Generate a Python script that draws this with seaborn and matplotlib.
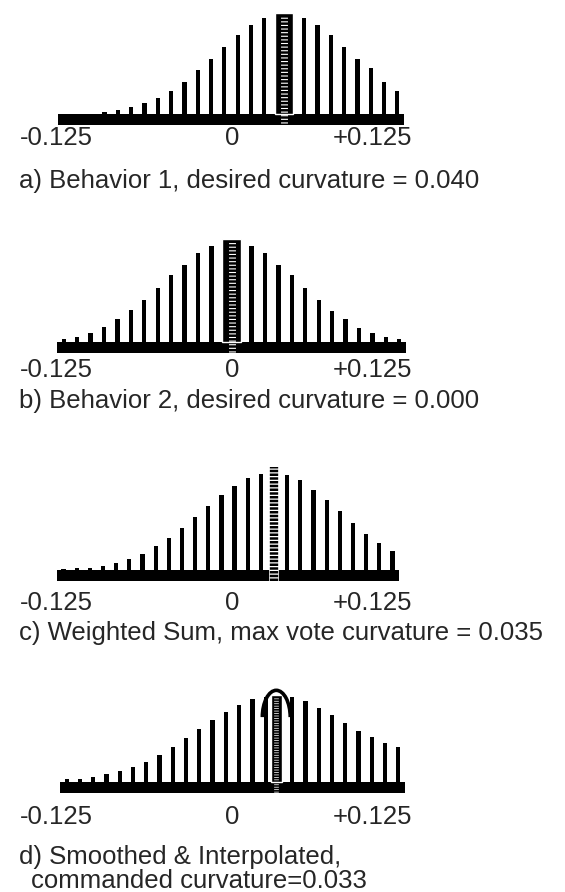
import matplotlib
matplotlib.use("Agg")
import matplotlib.pyplot as plt
from matplotlib.patches import Arc
import seaborn as sns

# curvature bins of the arc voting space
curv_bins = [-0.125, -0.115, -0.105, -0.095, -0.085, -0.075, -0.065, -0.055,
             -0.045, -0.035, -0.025, -0.015, -0.005, 0.005, 0.015, 0.025,
             0.035, 0.045, 0.055, 0.065, 0.075, 0.085, 0.095, 0.105, 0.115, 0.125]

# votes (1.0 = tallest mark)
votes_a = [0.00, 0.00, 0.00, 0.01, 0.03, 0.06, 0.10, 0.15, 0.22, 0.31, 0.42, 0.53, 0.65,
           0.76, 0.86, 0.93, 0.96, 0.96, 0.93, 0.86, 0.76, 0.65, 0.53, 0.44, 0.31, 0.22]
votes_b = [0.03, 0.05, 0.09, 0.15, 0.22, 0.31, 0.41, 0.52, 0.65, 0.75, 0.86, 0.93, 0.97,
           0.97, 0.93, 0.86, 0.75, 0.65, 0.52, 0.41, 0.30, 0.22, 0.14, 0.09, 0.05, 0.03]
votes_c = [0.01, 0.02, 0.02, 0.04, 0.07, 0.11, 0.16, 0.23, 0.31, 0.41, 0.51, 0.62, 0.73,
           0.82, 0.89, 0.93, 1.00, 0.92, 0.87, 0.78, 0.68, 0.57, 0.46, 0.35, 0.26, 0.18]
votes_d = [0.03, 0.03, 0.05, 0.08, 0.11, 0.15, 0.19, 0.26, 0.34, 0.43, 0.51, 0.60, 0.68,
           0.75, 0.81, 0.83, 0.84, 0.83, 0.79, 0.72, 0.65, 0.57, 0.50, 0.44, 0.38, 0.34]

# highlighted curvature and its height per panel
chosen_curv = [0.040, 0.000, 0.035, 0.033]
chosen_vote = [0.98, 1.00, 1.00, 0.84]

# interpolation parabola of panel d: top and foot of the arc
arc_top = 0.89
arc_foot = 0.63

tick_labels = ["-0.125", "0", "+0.125"]
captions = [["a) Behavior 1, desired curvature = 0.040"],
            ["b) Behavior 2, desired curvature = 0.000"],
            ["c) Weighted Sum, max vote curvature = 0.035"],
            ["d) Smoothed & Interpolated,", "commanded curvature=0.033"]]

sns.set_theme(style="white")
plt.rcParams["font.family"] = ["Liberation Sans", "DejaVu Sans"]

W, H = 565, 892
fig = plt.figure(figsize=(W / 100, H / 100), dpi=100)

unit = 103.0      # pixels per vote unit
thick = 11.0      # baseline thickness in px
ylo = -thick / unit
yhi = 1.05

# left, right, baseline top (px), tick baseline, caption baselines
layout = [(58, 404, 113.5, 145, [188]),
          (57, 406, 342, 377, [408]),
          (57, 399, 570, 610, [640]),
          (60, 405, 782, 824, [864, 888])]

all_votes = [votes_a, votes_b, votes_c, votes_d]
fs = 18.5

for i, (left, right, btop, tick_y, cap_y) in enumerate(layout):
    bottom = btop + thick
    hgt = (yhi - ylo) * unit
    ax = fig.add_axes([left / W, 1 - bottom / H, (right - left) / W, hgt / H])

    sns.barplot(x=curv_bins, y=all_votes[i], native_scale=True, orient="x",
                color="black", saturation=1, width=0.32, errorbar=None,
                linewidth=0, ax=ax)

    ax.axhspan(ylo, 0, color="black", lw=0)
    cx, cv = chosen_curv[i], chosen_vote[i]
    if i == 2:
        # max vote: dashed stack of black strokes
        ax.vlines(cx, ylo, cv, colors="white", linewidth=7, zorder=5)
        ax.vlines(cx, ylo, cv, colors="black", linewidth=6,
                  linestyles=(0, (0.3, 0.15)), zorder=6)
    else:
        w = 0.008 if i == 3 else 0.0135
        ax.bar(cx, cv, width=w, color="black", zorder=5)
        ax.vlines(cx, ylo + 0.01, cv - 0.02, colors="white",
                  linewidth=5.0 if i != 3 else 3.4,
                  linestyles=(0, (0.16, 0.36)), zorder=6)
    if i == 3:
        ax.add_patch(Arc((cx, arc_foot), 0.021, 2 * (arc_top - arc_foot),
                         theta1=0, theta2=180, lw=2.6, color="black", zorder=7))

    ax.set_xlim(-0.13, 0.13)
    ax.set_ylim(ylo, yhi)
    ax.set_axis_off()

    fig.text(20 / W, 1 - tick_y / H, tick_labels[0], ha="left", va="baseline", fontsize=fs)
    fig.text(232 / W, 1 - tick_y / H, tick_labels[1], ha="center", va="baseline", fontsize=fs)
    fig.text(412 / W, 1 - tick_y / H, tick_labels[2], ha="right", va="baseline", fontsize=fs)
    for j, (line, y) in enumerate(zip(captions[i], cap_y)):
        x0 = 19 if j == 0 else 31
        fig.text(x0 / W, 1 - y / H, line, ha="left", va="baseline", fontsize=fs)

fig.savefig("out.png", dpi=100)
